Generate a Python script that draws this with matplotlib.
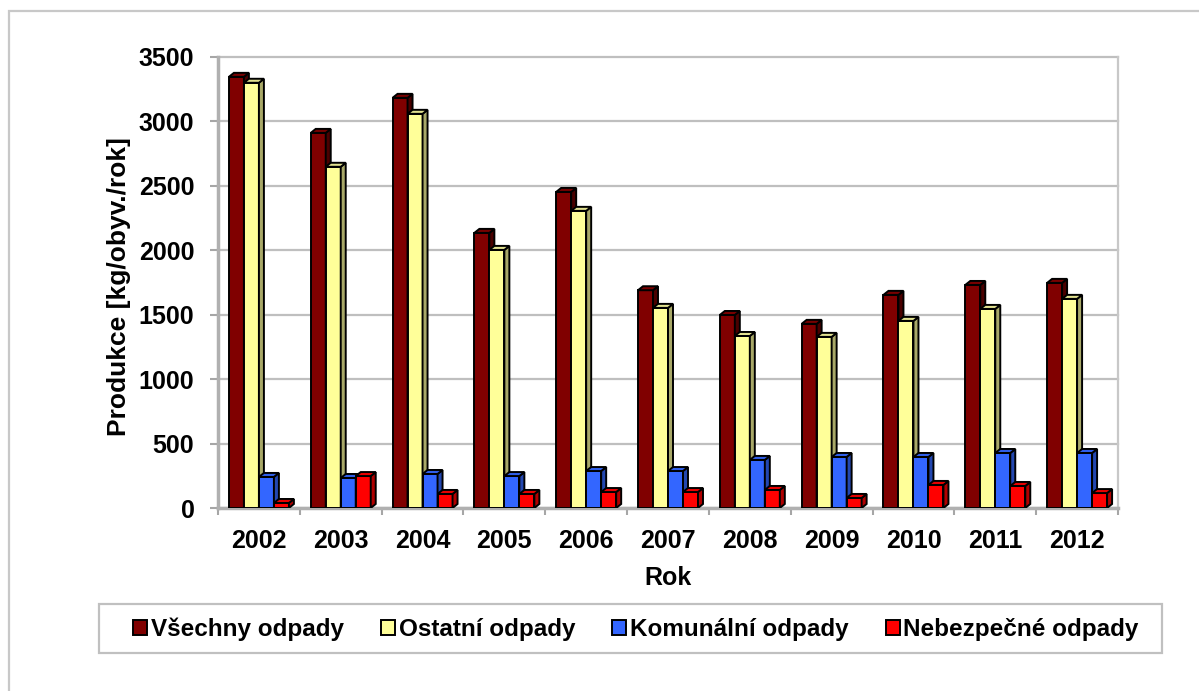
import matplotlib
matplotlib.use("Agg")
import matplotlib.pyplot as plt
from matplotlib.patches import Polygon, Rectangle, Patch

years = ['2002', '2003', '2004', '2005', '2006', '2007', '2008', '2009', '2010', '2011', '2012']
vsechny = [3346, 2911, 3183, 2135, 2453, 1690, 1498, 1429, 1654, 1731, 1747]
ostatni = [3300, 2648, 3059, 2003, 2306, 1553, 1335, 1328, 1452, 1545, 1623]
komunalni = [241, 233, 264, 248, 287, 287, 373, 396, 396, 427, 427]
nebezpecne = [39, 248, 109, 109, 124, 124, 140, 78, 179, 171, 116]
series_names = ['Všechny odpady', 'Ostatní odpady', 'Komunální odpady', 'Nebezpečné odpady']
yticks = [0, 500, 1000, 1500, 2000, 2500, 3000, 3500]

front_c = ['#800000', '#FFFF99', '#3366FF', '#FF0000']
side_c = ['#4A0000', '#A8A868', '#2347B0', '#B00000']
top_c = ['#780000', '#E2E290', '#2F5EE8', '#E80000']

FONT = 'Liberation Sans'
W, H = 1199, 691
fig = plt.figure(figsize=(W / 100, H / 100), dpi=100)
ax = fig.add_axes([218 / W, (H - 508) / H, 900 / W, 451 / H])
ax.set_xlim(-0.5, len(years) - 0.5)
ax.set_ylim(0, 3500)

# depth offsets in data units
px_per_x = 900 / len(years)
px_per_y = 451 / 3500
dx = 5 / px_per_x
dy = 4 / px_per_y
bw = 15 / px_per_x

data = [vsechny, ostatni, komunalni, nebezpecne]
for j, vals in enumerate(data):
    z = 3 + j * 0.1
    xs = [i + (j - 1.5) * bw for i in range(len(years))]
    ax.bar(xs, vals, width=bw, color=front_c[j], edgecolor='black', linewidth=1.4, zorder=z)
    for x, v in zip(xs, vals):
        r = x + bw / 2
        l = x - bw / 2
        side = Polygon([(r, 0), (r + dx, dy), (r + dx, v + dy), (r, v)], closed=True,
                       facecolor=side_c[j], edgecolor='black', linewidth=1.4, zorder=z)
        top = Polygon([(l, v), (l + dx, v + dy), (r + dx, v + dy), (r, v)], closed=True,
                      facecolor=top_c[j], edgecolor='black', linewidth=1.4, zorder=z)
        ax.add_patch(side)
        ax.add_patch(top)

ax.set_yticks(yticks)
ax.yaxis.grid(True, color='#BFBFBF', linewidth=1.6, zorder=0)
ax.set_axisbelow(True)
for gl in ax.get_ygridlines():
    gl.set_clip_on(False)

ax.set_xticks(range(len(years)))
ax.set_xticklabels(years)
ax.set_xticks([i - 0.5 for i in range(len(years) + 1)], minor=True)
ax.tick_params(axis='x', which='major', length=0, pad=15)
ax.tick_params(axis='x', which='minor', length=5, width=1.5, color='#A6A6A6', direction='out')
ax.tick_params(axis='y', length=6, width=1.5, color='#A6A6A6', pad=11)
for lab in ax.get_xticklabels() + ax.get_yticklabels():
    lab.set_fontfamily(FONT)
    lab.set_fontweight('bold')
    lab.set_fontsize(18)

ax.spines['top'].set_visible(False)
for s in ['left', 'bottom']:
    ax.spines[s].set_color('#B0B0B0')
    ax.spines[s].set_linewidth(2.5)
ax.spines['right'].set_color('#C8C8C8')
ax.spines['right'].set_linewidth(1.6)

ax.set_ylabel('Produkce [kg/obyv./rok]', fontfamily=FONT, fontweight='bold', fontsize=19)
ax.yaxis.set_label_coords(-0.097, 0.49)
ax.set_xlabel('Rok', fontfamily=FONT, fontweight='bold', fontsize=18)
ax.xaxis.set_label_coords(0.5, -0.128)

handles = [Patch(facecolor=c, edgecolor='black', linewidth=1.4) for c in front_c]
fig.legend(handles, series_names, loc='center', bbox_to_anchor=(636 / W, 1 - 629 / H),
           ncol=4, frameon=False,
           prop=dict(family=FONT, weight='bold', size=17.5),
           handlelength=0.58, handleheight=0.58, handletextpad=0.15, columnspacing=1.52)
fig.add_artist(Rectangle((99 / W, 1 - 653 / H), (1162 - 99) / W, (653 - 604) / H,
                         transform=fig.transFigure, fill=False, edgecolor='#C0C0C0', linewidth=1.6))
fig.add_artist(Rectangle((9 / W, -0.05), 1.2, 1 - 11 / H + 0.05,
                         transform=fig.transFigure, fill=False, edgecolor='#C8C8C8', linewidth=1.6,
                         clip_on=False))

fig.savefig('out.png', dpi=100)
